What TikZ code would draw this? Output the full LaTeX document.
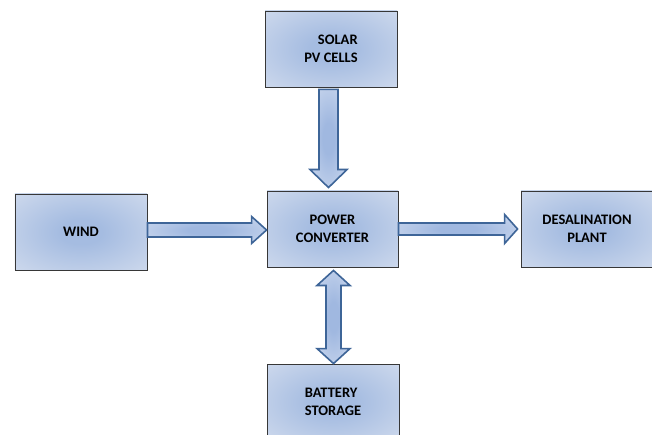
\documentclass[tikz,border=0pt]{standalone}
\usepackage{fontspec}
\setmainfont{Carlito}
\usetikzlibrary{calc}
\definecolor{boxin}{RGB}{165,188,225}
\definecolor{boxmid}{RGB}{214,223,239}
\definecolor{boxout}{RGB}{234,239,247}
\definecolor{arrin}{RGB}{160,184,224}
\definecolor{arrout}{RGB}{230,236,247}
\definecolor{arrline}{RGB}{62,101,152}
\definecolor{boxline}{RGB}{55,55,55}
\pgfdeclareradialshading{boxshade}{\pgfpoint{0bp}{0bp}}{color(0bp)=(boxin); color(8bp)=(boxin); color(42bp)=(boxmid); color(72bp)=(boxout)}
\pgfdeclareradialshading{arrshade}{\pgfpoint{0bp}{0bp}}{color(0bp)=(arrin); color(8bp)=(arrin); color(50bp)=(arrout); color(72bp)=(arrout)}
\tikzset{
  blockbox/.style={draw=boxline, line width=0.9bp, shading=boxshade,
    minimum width=132bp, minimum height=76bp, inner sep=0pt, font=\bfseries\fontsize{14.5bp}{18bp}\selectfont,
    text=black},
  blockarrow/.style={draw=arrline, line width=1.6bp, line join=miter, shading=arrshade}
}
% right arrow: #1 start, #2 end, #3 shaft half, #4 head half, #5 head length
\newcommand\myrightarrow[5]{%
  \path[blockarrow] let \p1=(#1), \p2=(#2) in
    (\x1,\y1+#3bp) -- (\x2-#5bp,\y1+#3bp) -- (\x2-#5bp,\y1+#4bp) -- (\x2,\y1) --
    (\x2-#5bp,\y1-#4bp) -- (\x2-#5bp,\y1-#3bp) -- (\x1,\y1-#3bp) -- cycle;}
% down arrow
\newcommand\mydownarrow[5]{%
  \path[blockarrow] let \p1=(#1), \p2=(#2) in
    (\x1-#3bp,\y1) -- (\x1-#3bp,\y2+#5bp) -- (\x1-#4bp,\y2+#5bp) -- (\x1,\y2) --
    (\x1+#4bp,\y2+#5bp) -- (\x1+#3bp,\y2+#5bp) -- (\x1+#3bp,\y1) -- cycle;}
% double vertical arrow
\newcommand\mydoublearrow[5]{%
  \path[blockarrow] let \p1=(#1), \p2=(#2) in
    (\x1,\y1) -- (\x1+#4bp,\y1-#5bp) -- (\x1+#3bp,\y1-#5bp) -- (\x1+#3bp,\y2+#5bp) --
    (\x1+#4bp,\y2+#5bp) -- (\x1,\y2) -- (\x1-#4bp,\y2+#5bp) -- (\x1-#3bp,\y2+#5bp) --
    (\x1-#3bp,\y1-#5bp) -- (\x1-#4bp,\y1-#5bp) -- cycle;}
\begin{document}
\begin{tikzpicture}[x=1bp,y=-1bp]
\useasboundingbox (0,0) rectangle (652,435);
\fill[white] (0,0) rectangle (652,435);
\node[blockbox, align=right] (solar) at (331,49) {SOLAR\\PV CELLS};
\node[blockbox] (wind) at (81,232) {WIND};
\node[blockbox, minimum width=131bp, align=center] (power) at (332.5,229) {POWER\\CONVERTER};
\node[blockbox, align=center] (desal) at (587,229) {DESALINATION\\PLANT};
\node[blockbox, align=left] (battery) at (333,402) {BATTERY\\STORAGE};
\coordinate (a1s) at ($(solar.south)+(-2.5,2)$);
\coordinate (a1e) at ($(power.north)+(-4,-3)$);
\mydownarrow{a1s}{a1e}{9.5}{18.5}{18}
\coordinate (a2s) at ($(wind.east)+(0,-2)$);
\coordinate (a2e) at (power.west);
\myrightarrow{a2s}{a2e}{7}{13.5}{15}
\coordinate (a3s) at (power.east);
\coordinate (a3e) at ($(desal.west)+(-3,0)$);
\myrightarrow{a3s}{a3e}{6}{14.5}{13}
\coordinate (a4s) at ($(power.south)+(1,3)$);
\coordinate (a4e) at ($(battery.north)+(0.5,0)$);
\mydoublearrow{a4s}{a4e}{7.5}{16.5}{15}
\end{tikzpicture}
\end{document}
